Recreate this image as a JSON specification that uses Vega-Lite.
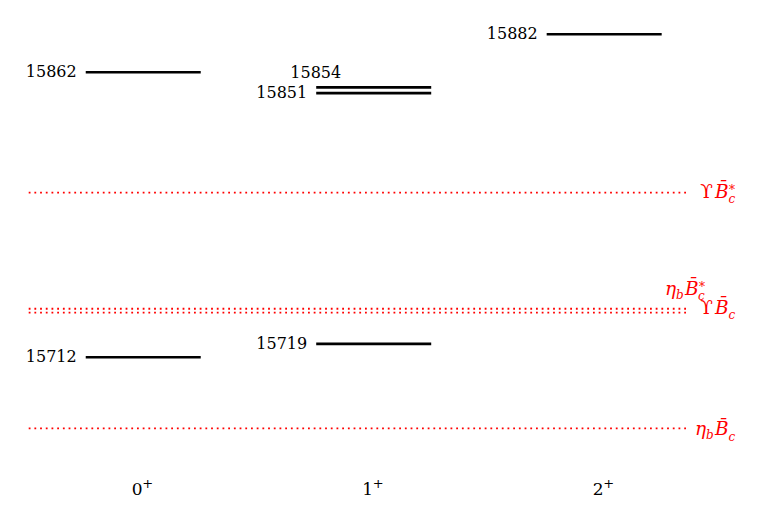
{
  "$schema": "https://vega.github.io/schema/vega-lite/v6.json",
  "width": 658,
  "height": 475,
  "autosize": {"type": "none"},
  "padding": {"left": 28, "top": 0, "right": 81, "bottom": 46},
  "config": {"view": {"stroke": null}, "font": "DejaVu Serif"},
  "datasets": {
    "levels": [
      {"J": 0, "mass": 15862, "place": "beside"},
      {"J": 0, "mass": 15712, "place": "beside"},
      {"J": 1, "mass": 15854, "place": "raised"},
      {"J": 1, "mass": 15851, "place": "beside"},
      {"J": 1, "mass": 15719, "place": "beside"},
      {"J": 2, "mass": 15882, "place": "beside"}
    ],
    "columns": [
      {"J": 0, "parity": "+"},
      {"J": 1, "parity": "+"},
      {"J": 2, "parity": "+"}
    ],
    "thresholds": [
      {"channel": "ϒB̄c*", "mass": 15798.6, "meson": "ϒ", "star": "*", "place": "right"},
      {"channel": "ηbB̄c*", "mass": 15737.5, "meson": "η", "star": "*", "place": "above"},
      {"channel": "ϒB̄c", "mass": 15735.5, "meson": "ϒ", "star": "", "place": "pairlow"},
      {"channel": "ηbB̄c", "mass": 15674.5, "meson": "η", "star": "", "place": "right"}
    ]
  },
  "layer": [
    {
      "data": {"name": "thresholds"},
      "mark": {"type": "rule", "color": "#ff0000", "strokeWidth": 1.8, "strokeDash": [1.8, 3.9]},
      "encoding": {
        "y": {"field": "mass", "type": "quantitative", "scale": {"domain": [15650, 15900], "nice": false, "zero": false}, "axis": null}
      }
    },
    {
      "data": {"name": "levels"},
      "mark": {"type": "tick", "orient": "horizontal", "size": 115, "thickness": 2.6, "color": "black", "opacity": 1},
      "encoding": {
        "x": {"field": "J", "type": "quantitative", "scale": {"domain": [-0.5, 2.355], "nice": false, "zero": false}, "axis": null},
        "y": {"field": "mass", "type": "quantitative", "scale": {"domain": [15650, 15900], "nice": false, "zero": false}, "axis": null}
      }
    },
    {
      "data": {"name": "levels"},
      "mark": {"type": "text", "align": "right", "baseline": "middle", "fontSize": 16, "font": "DejaVu Serif", "color": "black",
        "dx": {"expr": "datum.place == 'raised' ? -32.5 : -66.5"},
        "dy": {"expr": "datum.place == 'raised' ? -14 : 0"}},
      "encoding": {
        "x": {"field": "J", "type": "quantitative"},
        "y": {"field": "mass", "type": "quantitative"},
        "text": {"field": "mass", "type": "quantitative", "format": "d"}
      }
    },
    {
      "data": {"name": "columns"},
      "mark": {"type": "text", "align": "center", "baseline": "alphabetic", "fontSize": 17, "font": "DejaVu Serif", "color": "black",
        "dy": 20, "dx": -6},
      "encoding": {
        "x": {"field": "J", "type": "quantitative"},
        "y": {"value": "height"},
        "text": {"field": "J", "type": "quantitative", "format": "d"}
      }
    },
    {
      "data": {"name": "columns"},
      "mark": {"type": "text", "align": "center", "baseline": "alphabetic", "fontSize": 13, "font": "DejaVu Serif", "color": "black",
        "dy": 13, "dx": 4.5},
      "encoding": {
        "x": {"field": "J", "type": "quantitative"},
        "y": {"value": "height"},
        "text": {"field": "parity", "type": "nominal"}
      }
    },
    {
      "data": {"name": "thresholds"},
      "transform": [{"filter": "datum.meson == 'ϒ'"}],
      "mark": {"type": "text", "align": "right", "baseline": "alphabetic", "fontSize": 18.5, "font": "DejaVu Serif", "color": "#ff0000",
        "dx": 27, "dy": {"expr": "datum.place == 'pairlow' ? 1 : 5"}},
      "encoding": {
        "x": {"value": "width"},
        "y": {"field": "mass", "type": "quantitative"},
        "text": {"field": "meson", "type": "nominal"}
      }
    },
    {
      "data": {"name": "thresholds"},
      "transform": [{"filter": "datum.meson == 'η'"}],
      "mark": {"type": "text", "align": "right", "baseline": "alphabetic", "fontSize": 18.5, "fontStyle": "italic", "font": "DejaVu Serif", "color": "#ff0000",
        "dx": {"expr": "datum.place == 'above' ? -10 : 20"}, "dy": {"expr": "datum.place == 'above' ? -14 : 7"}},
      "encoding": {
        "x": {"value": "width"},
        "y": {"field": "mass", "type": "quantitative"},
        "text": {"field": "meson", "type": "nominal"}
      }
    },
    {
      "data": {"name": "thresholds"},
      "transform": [{"filter": "datum.meson == 'η'"}],
      "mark": {"type": "text", "align": "left", "baseline": "alphabetic", "fontSize": 12, "fontStyle": "italic", "font": "DejaVu Serif", "color": "#ff0000", "text": "b",
        "dx": {"expr": "datum.place == 'above' ? -10 : 20"}, "dy": {"expr": "datum.place == 'above' ? -10 : 11"}},
      "encoding": {
        "x": {"value": "width"},
        "y": {"field": "mass", "type": "quantitative"}
      }
    },
    {
      "data": {"name": "thresholds"},
      "mark": {"type": "text", "align": "left", "baseline": "alphabetic", "fontSize": 18.5, "fontStyle": "italic", "font": "DejaVu Serif", "color": "#ff0000", "text": "B̄",
        "dx": {"expr": "datum.place == 'above' ? -1 : 29"},
        "dy": {"expr": "datum.place == 'above' ? -14 : datum.place == 'pairlow' ? 1 : datum.meson == 'η' ? 7 : 5"}},
      "encoding": {
        "x": {"value": "width"},
        "y": {"field": "mass", "type": "quantitative"}
      }
    },
    {
      "data": {"name": "thresholds"},
      "mark": {"type": "text", "align": "left", "baseline": "alphabetic", "fontSize": 12, "fontStyle": "italic", "font": "DejaVu Serif", "color": "#ff0000", "text": "c",
        "dx": {"expr": "datum.place == 'above' ? 12 : 42.5"},
        "dy": {"expr": "datum.place == 'above' ? -9 : datum.place == 'pairlow' ? 6 : datum.meson == 'η' ? 13 : 10"}},
      "encoding": {
        "x": {"value": "width"},
        "y": {"field": "mass", "type": "quantitative"}
      }
    },
    {
      "data": {"name": "thresholds"},
      "transform": [{"filter": "datum.star == '*'"}],
      "mark": {"type": "text", "align": "left", "baseline": "alphabetic", "fontSize": 12, "font": "DejaVu Serif", "color": "#ff0000", "text": "*",
        "dx": {"expr": "datum.place == 'above' ? 13 : 43"},
        "dy": {"expr": "datum.place == 'above' ? -18 : 1"}},
      "encoding": {
        "x": {"value": "width"},
        "y": {"field": "mass", "type": "quantitative"}
      }
    }
  ]
}
